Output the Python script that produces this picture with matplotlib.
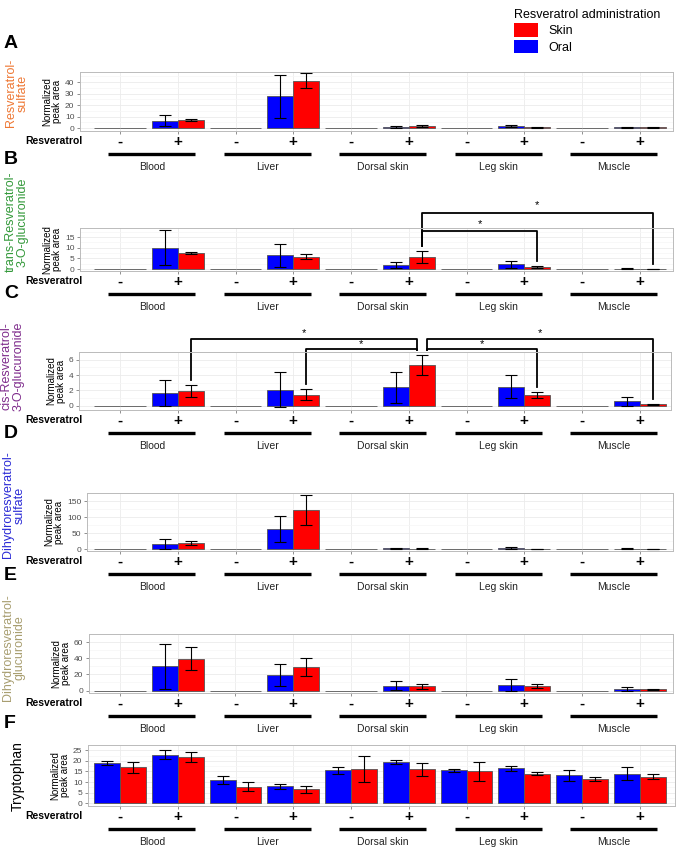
import numpy as np
import matplotlib
matplotlib.use('Agg')
import matplotlib.pyplot as plt
from matplotlib.transforms import blended_transform_factory
from matplotlib.patches import Patch

plt.rcParams['font.family'] = ['Liberation Sans', 'DejaVu Sans']

# ---------------- data ----------------
tissues = ['Blood', 'Liver', 'Dorsal skin', 'Leg skin', 'Muscle']
treatment = ['-', '+']

# Panel A: Resveratrol-sulfate
a_oral = [0, 6.5, 0, 27.5, 0, 1.2, 0, 2.0, 0, 0.7]
a_oral_err = [0, 4.5, 0, 19.0, 0, 0.8, 0, 1.0, 0, 0.4]
a_skin = [0, 7.0, 0, 41.0, 0, 1.8, 0, 0.5, 0, 0.5]
a_skin_err = [0, 1.0, 0, 6.5, 0, 0.8, 0, 0.3, 0, 0.2]

# Panel B: trans-Resveratrol-3-O-glucuronide
b_oral = [0, 10.0, 0, 6.5, 0, 1.9, 0, 2.2, 0, 0.2]
b_oral_err = [0, 8.2, 0, 5.4, 0, 1.6, 0, 1.5, 0, 0.1]
b_skin = [0, 7.4, 0, 5.9, 0, 5.6, 0, 1.0, 0, 0.05]
b_skin_err = [0, 0.4, 0, 1.3, 0, 2.9, 0, 0.5, 0, 0.05]

# Panel C: cis-Resveratrol-3-O-glucuronide
c_oral = [0, 1.7, 0, 2.1, 0, 2.4, 0, 2.5, 0, 0.6]
c_oral_err = [0, 1.7, 0, 2.3, 0, 2.0, 0, 1.5, 0, 0.6]
c_skin = [0, 1.95, 0, 1.45, 0, 5.3, 0, 1.45, 0, 0.2]
c_skin_err = [0, 0.8, 0, 0.75, 0, 1.3, 0, 0.4, 0, 0.05]

# Panel D: Dihydroresveratrol-sulfate
d_oral = [0, 15, 0, 62, 0, 2, 0, 3, 0, 1.5]
d_oral_err = [0, 15, 0, 40, 0, 1.5, 0, 2, 0, 1]
d_skin = [0, 18, 0, 122, 0, 1.5, 0, 1, 0, 1]
d_skin_err = [0, 6, 0, 48, 0, 1, 0, 0.5, 0, 0.5]

# Panel E: Dihydroresveratrol-glucuronide
e_oral = [0, 30, 0, 19.5, 0, 6, 0, 7, 0, 2.3]
e_oral_err = [0, 28, 0, 14, 0, 5.5, 0, 7, 0, 2.5]
e_skin = [0, 39.5, 0, 29, 0, 5.3, 0, 5.5, 0, 1.8]
e_skin_err = [0, 14, 0, 11.5, 0, 2.8, 0, 2.5, 0, 0.6]

# Panel F: Tryptophan
f_oral = [19, 23, 11, 8, 15.5, 19.5, 15.5, 16.5, 13.2, 14]
f_oral_err = [1, 2.3, 1.8, 1.2, 1.8, 1.1, 0.8, 1.1, 2.7, 3.2]
f_skin = [17, 22, 7.8, 6.5, 16.2, 16, 15.2, 14, 11.5, 12.5]
f_skin_err = [2.7, 2.4, 2.2, 1.6, 6, 3, 4.5, 0.8, 1.1, 1.2]

# significance brackets: (from category, to category) on Skin bars, panel B and C
b_pairs = [(6, 8), (6, 10)]
c_pairs = [(2, 6), (4, 6), (6, 8), (6, 10)]

# ---------------- layout ----------------
W, H = 678, 851
fig = plt.figure(figsize=(W / 100, H / 100), dpi=100)
fx = lambda p: p / W
fy = lambda p: 1 - p / H

TICK0, TICKSTEP = 120.0, 57.75
RED, BLUE = '#FF0000', '#0000FF'

panels = [
    dict(letter='A', letter_y=43, label='Resveratrol-\nsulfate', lcol='#EE7733', ly=93, lx=17,
         box=(80, 673, 72, 131), ylim=(-2.6, 48.7), yticks=[0, 10, 20, 30, 40],
         data=(a_oral, a_oral_err, a_skin, a_skin_err)),
    dict(letter='B', letter_y=160, label='trans-Resveratrol-\n3-O-glucuronide', lcol='#33993A', ly=222, lx=17,
         box=(80, 673, 228, 271), ylim=(-0.9, 19.3), yticks=[0, 5, 10, 15],
         data=(b_oral, b_oral_err, b_skin, b_skin_err)),
    dict(letter='C', letter_y=293, label='cis-Resveratrol-\n3-O-glucuronide', lcol='#7F2C8C', ly=366, lx=13,
         box=(79, 671, 352, 410), ylim=(-0.55, 6.95), yticks=[0, 2, 4, 6],
         data=(c_oral, c_oral_err, c_skin, c_skin_err)),
    dict(letter='D', letter_y=434, label='Dihydroresveratrol-\nsulfate', lcol='#2B2BD6', ly=505, lx=14,
         box=(87, 673, 493, 551), ylim=(-6, 175), yticks=[0, 50, 100, 150],
         data=(d_oral, d_oral_err, d_skin, d_skin_err)),
    dict(letter='E', letter_y=575, label='Dihydroresveratrol-\nglucuronide', lcol='#A89E70', ly=648, lx=14,
         box=(89, 673, 634, 693), ylim=(-3, 61), yticks=[0, 20, 40, 60],
         data=(e_oral, e_oral_err, e_skin, e_skin_err)),
    dict(letter='F', letter_y=724, label='Tryptophan', lcol='black', ly=776, lx=18,
         box=(88, 675, 745, 806), ylim=(-1.3, 26.6), yticks=[0, 5, 10, 15, 20, 25],
         data=(f_oral, f_oral_err, f_skin, f_skin_err)),
]

x = np.arange(1, 11)
bw = 0.45
axes = []
for p in panels:
    l, r, t, b = p['box']
    ax = fig.add_axes([fx(l), fy(b), (r - l) / W, (b - t) / H])
    axes.append(ax)
    ax.set_xlim(1 - (TICK0 - l) / TICKSTEP, 10 + (r - (TICK0 + 9 * TICKSTEP)) / TICKSTEP)
    ax.set_ylim(*p['ylim'])
    oral, oral_err, skin, skin_err = [np.asarray(v, float) for v in p['data']]
    ax.bar(x - bw / 2, oral, width=bw, color=BLUE, edgecolor='#555555', linewidth=0.6, zorder=3)
    ax.bar(x + bw / 2, skin, width=bw, color=RED, edgecolor='#555555', linewidth=0.6, zorder=3)
    for xs, v, e in ((x - bw / 2, oral, oral_err), (x + bw / 2, skin, skin_err)):
        m = e > 0
        ax.errorbar(xs[m], v[m], yerr=e[m], fmt='none', ecolor='black', elinewidth=0.8,
                    capsize=4.5, capthick=0.8, zorder=4)
    ax.set_xticks(x)
    ax.set_xticklabels([])
    ax.set_yticks(p['yticks'])
    yt = p['yticks']
    ax.set_yticks([(yt[i] + yt[i + 1]) / 2 for i in range(len(yt) - 1)] + [yt[-1] + (yt[1] - yt[0]) / 2], minor=True)
    ax.tick_params(axis='y', which='minor', length=0)
    ax.tick_params(axis='both', which='major', labelsize=6, labelcolor='#4D4D4D', color='#7F7F7F',
                   length=2.5, width=0.6, pad=1.5)
    ax.grid(which='major', color='#EBEBEB', linewidth=0.6, zorder=0)
    ax.grid(which='minor', axis='y', color='#F6F6F6', linewidth=0.5, zorder=0)
    ax.set_axisbelow(True)
    for s in ax.spines.values():
        s.set_color('#BBBBBB')
        s.set_linewidth(0.7)
    ax.set_ylabel('Normalized\npeak area', fontsize=7, labelpad=2, linespacing=1.0)

    # panel letter and compound label
    fig.text(fx(4), fy(p['letter_y']), p['letter'], fontsize=14, fontweight='bold', va='center', ha='left')
    fig.text(fx(p['lx']), fy(p['ly']), p['label'], fontsize=10 if p['letter'] == 'F' else 9,
             color=p['lcol'], rotation=90, va='center', ha='center', multialignment='center',
             linespacing=1.0)

    # treatment row, group lines and tissue names
    tr = blended_transform_factory(ax.transData, fig.transFigure)
    fig.text(fx(82), fy(b + 10), 'Resveratrol', fontsize=7.5, fontweight='bold', ha='right', va='center')
    for i in range(10):
        ax.text(x[i], fy(b + 11), treatment[i % 2], transform=tr, fontsize=11, fontweight='bold',
                ha='center', va='center')
    for k, name in enumerate(tissues):
        x1, x2 = x[2 * k] - 0.2, x[2 * k + 1] + 0.3
        ax.plot([x1, x2], [fy(b + 23)] * 2, transform=tr, color='black', lw=2.4, clip_on=False,
                solid_capstyle='butt')
        ax.text((x1 + x2) / 2, fy(b + 36), name, transform=tr, fontsize=7.5, ha='center', va='center',
                color='#222222')


def draw_brackets(ax, pairs, skin, skin_err, levels, star_levels, split):
    tr = blended_transform_factory(ax.transData, fig.transFigure)
    inv = fig.transFigure.inverted()
    for (c1, c2), yl, ys in zip(pairs, levels, star_levels):
        xa = c1 + bw / 2 + (split if c1 == 6 else 0)
        xb = c2 + bw / 2 - (split if c2 == 6 else 0)
        ends = []
        for c, xx in ((c1, xa), (c2, xb)):
            top = skin[c - 1] + skin_err[c - 1]
            yfig = inv.transform(ax.transData.transform((xx, top)))[1] + 5 / H
            ends.append(min(yfig, fy(yl)))
        ax.plot([xa, xa, xb, xb], [ends[0], fy(yl), fy(yl), ends[1]], transform=tr, color='black',
                lw=1.3, clip_on=False)
        ax.text((xa + xb) / 2, fy(ys), '*', transform=tr, fontsize=8, ha='center', va='center')


draw_brackets(axes[1], b_pairs, b_skin, b_skin_err, [231, 213], [224, 205], 0.0)
draw_brackets(axes[2], c_pairs, c_skin, c_skin_err, [339, 349, 349, 339], [333, 344, 344, 333], 0.09)

# legend
handles = [Patch(facecolor=RED, edgecolor='none', label='Skin'),
           Patch(facecolor=BLUE, edgecolor='none', label='Oral')]
fig.legend(handles=handles, title='Resveratrol administration', loc='upper left',
           bbox_to_anchor=(fx(505), fy(0)), frameon=False, fontsize=9, title_fontsize=9,
           handlelength=1.9, handleheight=1.3, labelspacing=0.2, handletextpad=0.9,
           alignment='left', borderpad=0.2)

fig.savefig('out.png', dpi=100)
